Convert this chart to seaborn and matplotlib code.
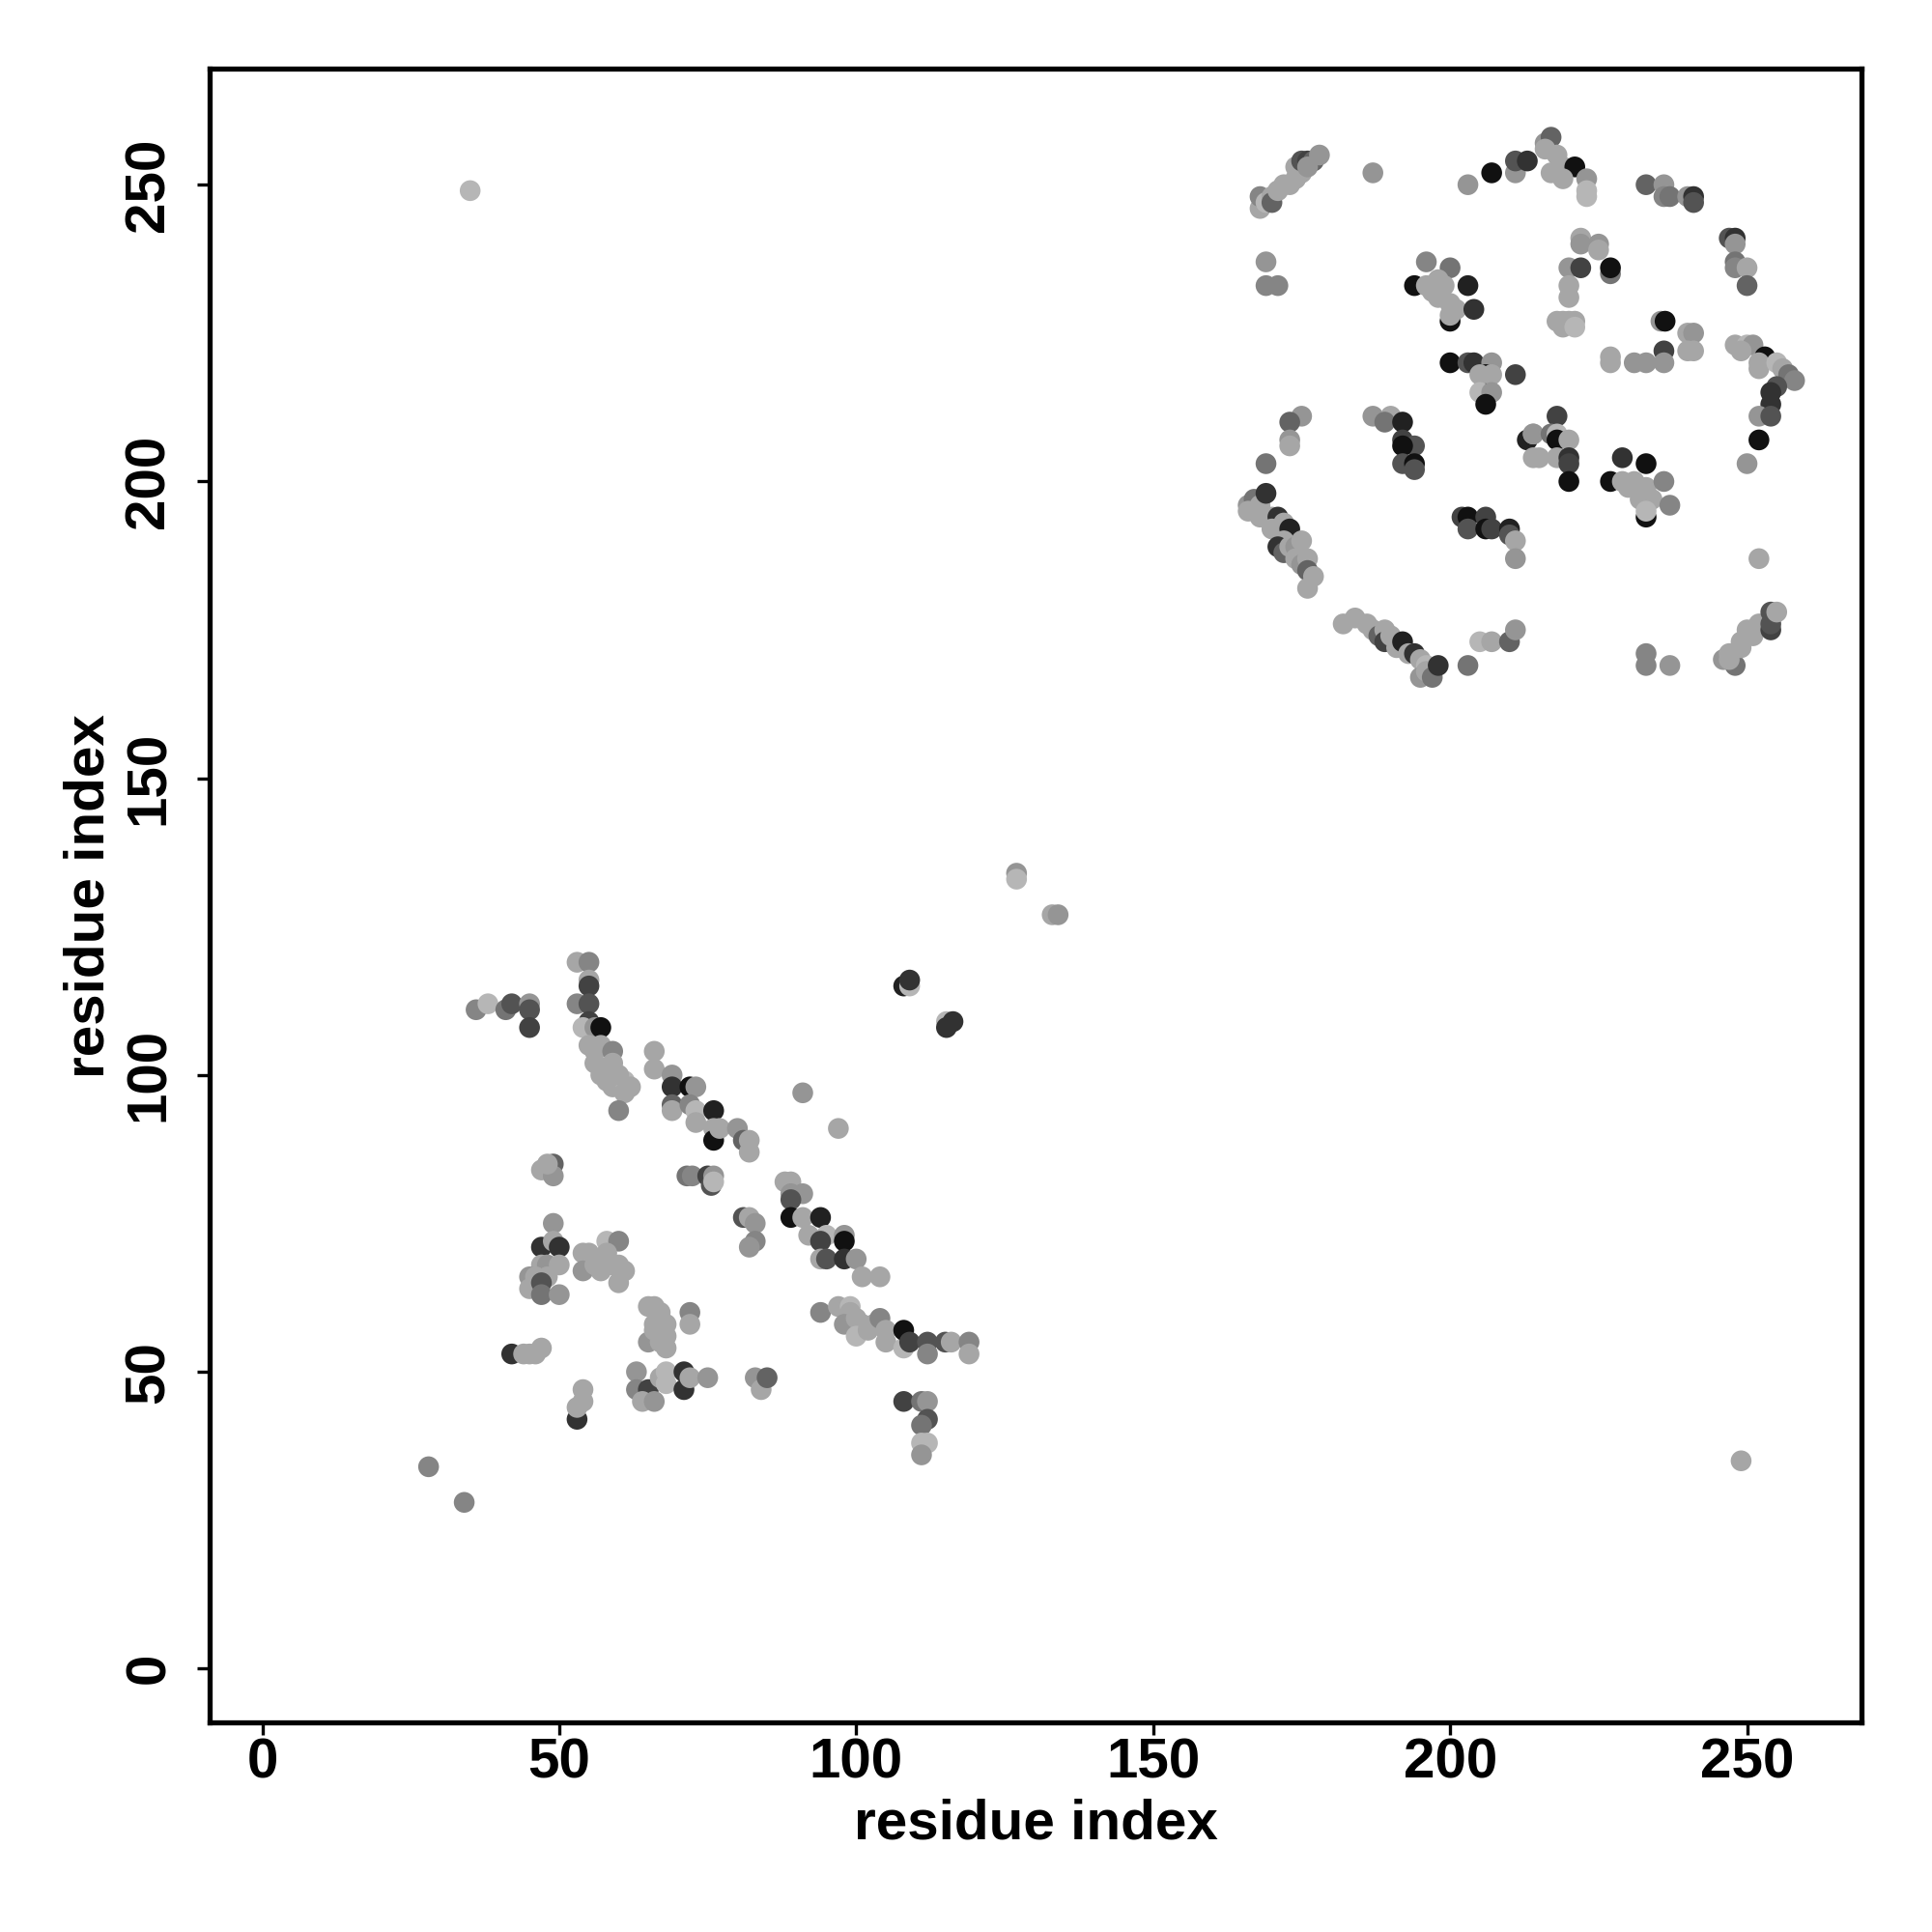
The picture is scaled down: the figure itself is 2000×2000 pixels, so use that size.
import numpy as np
import pandas as pd
import seaborn as sns
import matplotlib.pyplot as plt
from matplotlib.colors import LinearSegmentedColormap

# ==========================================
# contact map data (residue i, residue j, contact score 0..1)
# ==========================================
# C-terminal domain block (upper right)
ur_i = [168, 168, 169, 170, 170, 171, 172, 173, 174, 174,
        175, 175, 176, 177, 176, 178, 187, 203, 207, 211,
        211, 213, 169, 169, 171, 196, 200, 194, 200, 196,
        197, 198, 199, 198, 200, 201, 200, 203, 204, 200,
        203, 204, 207, 206, 205, 207, 211, 205, 207, 206,
        216, 217, 218, 216, 219, 221, 217, 219, 223, 223,
        223, 233, 236, 236, 237, 240, 241, 241, 222, 222,
        225, 225, 220, 222, 227, 227, 220, 220, 218, 219,
        220, 221, 219, 221, 247, 248, 248, 248, 248, 250,
        250, 235.5, 236.2, 240, 241, 236, 240, 241, 236, 227,
        227, 231, 233, 248, 250, 251, 249, 253, 252, 252,
        255, 256, 257, 258, 255, 254, 175, 173, 173, 173,
        169, 166, 167, 166, 168, 169, 168, 170, 171, 170,
        172, 173, 172, 171, 172, 173, 174, 175, 174, 175,
        176, 176, 177, 176, 187, 190, 189, 192, 192, 194,
        192, 192, 194, 194, 202, 203, 206, 203, 206, 207,
        210, 210, 211, 211, 182, 184, 186, 187, 188, 189,
        189, 190, 191, 192, 193, 194, 195, 196, 195, 196,
        197, 198, 203, 205, 207, 210, 211, 213, 214, 214,
        218, 214, 217, 218, 218, 220, 215, 218, 220, 220,
        220, 233, 227, 229, 233, 229, 230, 231, 232, 233,
        232, 234, 233, 233, 236, 237, 254, 252, 254, 252,
        250, 252, 246, 248, 247, 247, 249, 249, 250, 251,
        252, 254, 254, 254, 255, 233, 233, 237]
ur_j = [246, 248, 247, 248, 247, 249, 250, 250, 251, 253,
        252, 254, 254, 254, 253, 255, 252, 250, 252, 252,
        254, 254, 237, 233, 233, 237, 236, 233, 227, 233,
        232, 234, 233, 231, 230, 229, 228, 233, 229, 220,
        220, 220, 220, 218, 218, 218, 218, 215, 215, 213,
        257, 258, 255, 256, 253, 253, 252, 251, 251, 249,
        248, 250, 250, 248, 248, 248, 248, 247, 241, 240,
        240, 239, 236, 236, 235, 236, 233, 231, 227, 227,
        227, 227, 226, 226, 241, 241, 240, 237, 236, 236,
        233, 227, 227, 225, 225, 222, 222, 222, 220, 221,
        220, 220, 220, 223, 223, 223, 222, 221, 220, 219,
        220, 219, 218, 217, 216, 215, 211, 210, 207, 206,
        203, 196, 197, 195, 196, 198, 194, 194, 194, 192,
        193, 192, 190, 189, 188, 189, 189, 190, 187, 186,
        187, 185, 184, 182, 211, 211, 210, 210, 207, 206,
        206, 203, 203, 202, 194, 194, 194, 192, 192, 192,
        192, 191, 190, 187, 176, 177, 176, 175, 174, 175,
        173, 174, 172, 173, 171, 171, 170, 169, 167, 168,
        167, 169, 169, 173, 173, 173, 175, 207, 208, 204,
        211, 208, 208, 208, 207, 207, 204, 204, 204, 203,
        200, 194, 200, 204, 203, 200, 199, 200, 198, 199,
        197, 197, 196, 195, 200, 196, 213, 211, 211, 207,
        203, 187, 170, 169, 170, 171, 172, 173, 175, 174,
        176, 175, 176, 178, 178, 171, 169, 169]
ur_score = [.1, .3, 0, .1, .5, .1, .1, .1, .1, .1,
            .1, .6, .7, .5, .2, .2, .2, .2, 1, .2,
            .6, .8, .2, .3, .3, .3, .4, 1, 1, .1,
            .1, .1, .1, .1, .1, .1, .1, .9, .8, 1,
            .6, .8, .2, 1, .1, .1, .7, 0, .2, 1,
            .2, .5, .1, .1, .1, 1, .1, .1, .2, 0,
            0, .5, .2, .3, .4, .2, .8, .6, .1, .2,
            .2, .1, .2, .7, .4, 1, .1, .1, .1, .1,
            .1, .1, .1, 0, .6, .8, .2, .4, .3, .1,
            .5, .2, 1, .1, .2, .7, .1, .1, .2, .1,
            .1, .2, .2, .1, 0, .2, .1, 1, .1, .1,
            0, .1, .4, .3, .6, .8, .2, .5, .2, .1,
            .4, .2, .4, .1, .1, .8, .1, .1, .8, .1,
            .1, .9, .1, .8, .5, .1, .2, .1, .1, .2,
            .1, .5, .1, .1, .2, .1, .4, .9, .7, .6,
            1, .6, 1, .6, .7, 1, .7, .6, 1, .7,
            .9, .6, .1, .2, .1, .1, .1, .1, .5, .1,
            .7, .1, .1, .9, .1, .8, .1, 0, .2, .1,
            .4, .8, .4, 0, .1, .5, .2, .9, .1, .1,
            .7, .2, .4, 0, 1, .1, .1, .1, .8, .7,
            1, 1, 1, .8, 1, .1, .1, .1, .1, .1,
            .1, .1, .1, 0, .3, .3, .8, .2, .6, 1,
            .2, .1, .2, .4, .1, .1, .1, .1, .1, .1,
            .1, .7, .6, .6, .1, .3, .3, .2]

# N-terminal domain block (lower left)
ll_i = [36, 38, 41, 42, 45, 45, 45, 53, 55, 55,
        55, 53, 55, 55, 54, 56, 57, 55, 56, 57,
        59, 56, 57, 58, 59, 60, 59, 61, 61, 60,
        62, 58, 60, 66, 66, 69, 69, 72, 73, 69,
        69, 72, 73, 73, 76, 76, 76, 47, 49, 49,
        48, 71.5, 72.4, 75, 75.6, 76, 76, 49, 108, 109,
        109, 115.2, 115.2, 116.3, 91, 97, 77, 80, 81, 82,
        82, 88, 89, 89, 91, 89, 81, 82, 83, 83,
        82, 89, 91, 94, 47, 49, 50, 47, 48, 50,
        45, 46, 48, 45, 47, 47, 50, 58, 60, 54,
        55, 57, 58, 60, 61, 54, 57, 60, 56, 59,
        72, 72, 65, 66, 67, 68, 68, 66, 65, 67,
        68, 66, 42, 44, 45, 46, 47, 53, 54, 54,
        53, 63, 63, 65, 64, 66, 67, 68, 68, 71,
        71, 72, 75, 28, 34, 92, 95, 98, 94, 98,
        94, 95, 98, 100, 101, 104, 94, 97, 99, 99,
        98, 100, 101, 103, 100, 102, 104, 105, 105, 108,
        108, 109, 112, 112, 115, 116, 119, 119, 83, 84,
        85, 108, 111, 112, 112, 111, 111, 112, 111]
ll_j = [111, 112, 111, 112, 112, 111, 108, 119, 119, 116,
        115, 112, 112, 109, 108, 108, 108, 105, 104, 105,
        104, 102, 100, 101, 102, 99, 98, 99, 97, 100,
        98, 99, 94, 104, 101, 100, 98, 98, 98, 95,
        94, 95, 94, 92, 94, 91, 89, 84, 85, 83,
        85, 83, 83, 83, 81.4, 83, 82, 75, 115, 115,
        116, 109, 108, 109, 97, 91, 91, 91, 89, 89,
        87, 82, 82, 80, 80, 79, 76, 76, 75, 72,
        71, 76, 76, 76, 71, 72, 71, 68, 68, 68,
        66, 66, 66, 64, 65, 63, 63, 72, 72, 70,
        70, 69, 70, 68, 67, 67, 67, 65, 68, 68,
        60, 58, 61, 61, 60, 58, 56, 58, 55, 55,
        54, 57, 53, 53, 53, 53, 54, 42, 47, 45,
        44, 50, 47, 47, 45, 45, 49, 50, 48, 50,
        47, 49, 49, 34, 28, 73, 73, 73, 72, 72,
        69, 69, 69, 69, 66, 66, 60, 61, 61, 60,
        58, 59, 58, 58, 56, 57, 59, 57, 55, 54,
        57, 55, 55, 53, 55, 55, 55, 53, 49, 47,
        49, 45, 45, 45, 42, 41, 38, 38, 36]
ll_score = [.3, 0, .4, .6, .2, .6, .7, .1, .3, .1,
            .7, .3, .6, .7, 0, .2, 1, .1, .1, .1,
            .3, .1, .1, .1, .1, .1, .1, 0, .1, .1,
            .1, .1, .3, .1, .1, .2, .8, 1, .2, .5,
            .1, .3, 0, .1, .9, .1, 1, .1, .5, .2,
            .1, .4, .3, .7, .6, .2, 0, .2, .9, 0,
            .8, 0, .8, .8, .2, .1, .1, .2, .5, .1,
            .1, .1, .1, .2, .2, .6, .6, .1, .2, .3,
            .2, 1, .1, .9, .8, .1, .8, .1, .2, .1,
            .2, .1, .1, .1, .6, .4, .2, 0, .3, .1,
            .1, .1, .1, .1, .1, .2, .1, .1, .1, .1,
            .3, .1, .1, .1, .1, .1, .1, .1, .2, .1,
            .1, .1, .8, .1, .1, .1, .1, .8, .1, .1,
            .1, .2, .3, .7, .1, .2, .1, 0, 0, .8,
            .8, .1, .2, .3, .3, .1, 0, .2, .7, 1,
            .1, .6, .8, .2, .1, .1, .3, .1, 0, .1,
            .2, .1, .1, .1, 0, .1, .3, .1, .1, 0,
            1, .7, .6, .3, .6, .1, .3, .1, .2, .1,
            .5, .7, .4, .2, .6, .4, 0, 0, .2]

# isolated long-range contacts
far_i = [35, 249, 127, 127, 133, 134]
far_j = [249, 35, 134, 133, 127, 127]
far_score = [0, .1, .2, 0, .1, .2]

TICKS = [0, 50, 100, 150, 200, 250]

df = pd.DataFrame({
    "i": ur_i + ll_i + far_i,
    "j": ur_j + ll_j + far_j,
    "score": ur_score + ll_score + far_score,
})

sns.set_style("white")
plt.rcParams['font.family'] = ['Liberation Sans', 'DejaVu Sans']
plt.rcParams['font.weight'] = 'bold'

fig = plt.figure(figsize=(10, 10), dpi=200)
ax = fig.add_axes([0.1084, 0.1084, 0.8552, 0.8559])

# light grey = weak contact, near black = strong contact
greys = LinearSegmentedColormap.from_list("greys_rev", ["#b6b6b6", "#111111"])
sns.scatterplot(data=df, x="i", y="j", hue="score", palette=greys, hue_norm=(0, 1),
                s=60, linewidth=0, legend=False, ax=ax)

ax.set_xlim(-8.9, 269.3)
ax.set_ylim(-9.1, 269.5)
ax.set_xticks(TICKS)
ax.set_yticks(TICKS)
ax.set_xticklabels([str(t) for t in TICKS])
ax.set_yticklabels([str(t) for t in TICKS], rotation=90, va='center')
ax.tick_params(axis='both', direction='out', length=4.6, width=1.2, labelsize=21,
               color='black', labelcolor='black', bottom=True, left=True, top=False, right=False)
ax.tick_params(axis='x', pad=1)
ax.tick_params(axis='y', pad=8)
for sp in ax.spines.values():
    sp.set_linewidth(1.9)
    sp.set_color('black')

ax.set_xlabel('residue index', fontsize=21, fontweight='bold', color='black', labelpad=3)
ax.set_ylabel('residue index', fontsize=21, fontweight='bold', color='black', labelpad=3)

fig.savefig('out.png', dpi=200)
